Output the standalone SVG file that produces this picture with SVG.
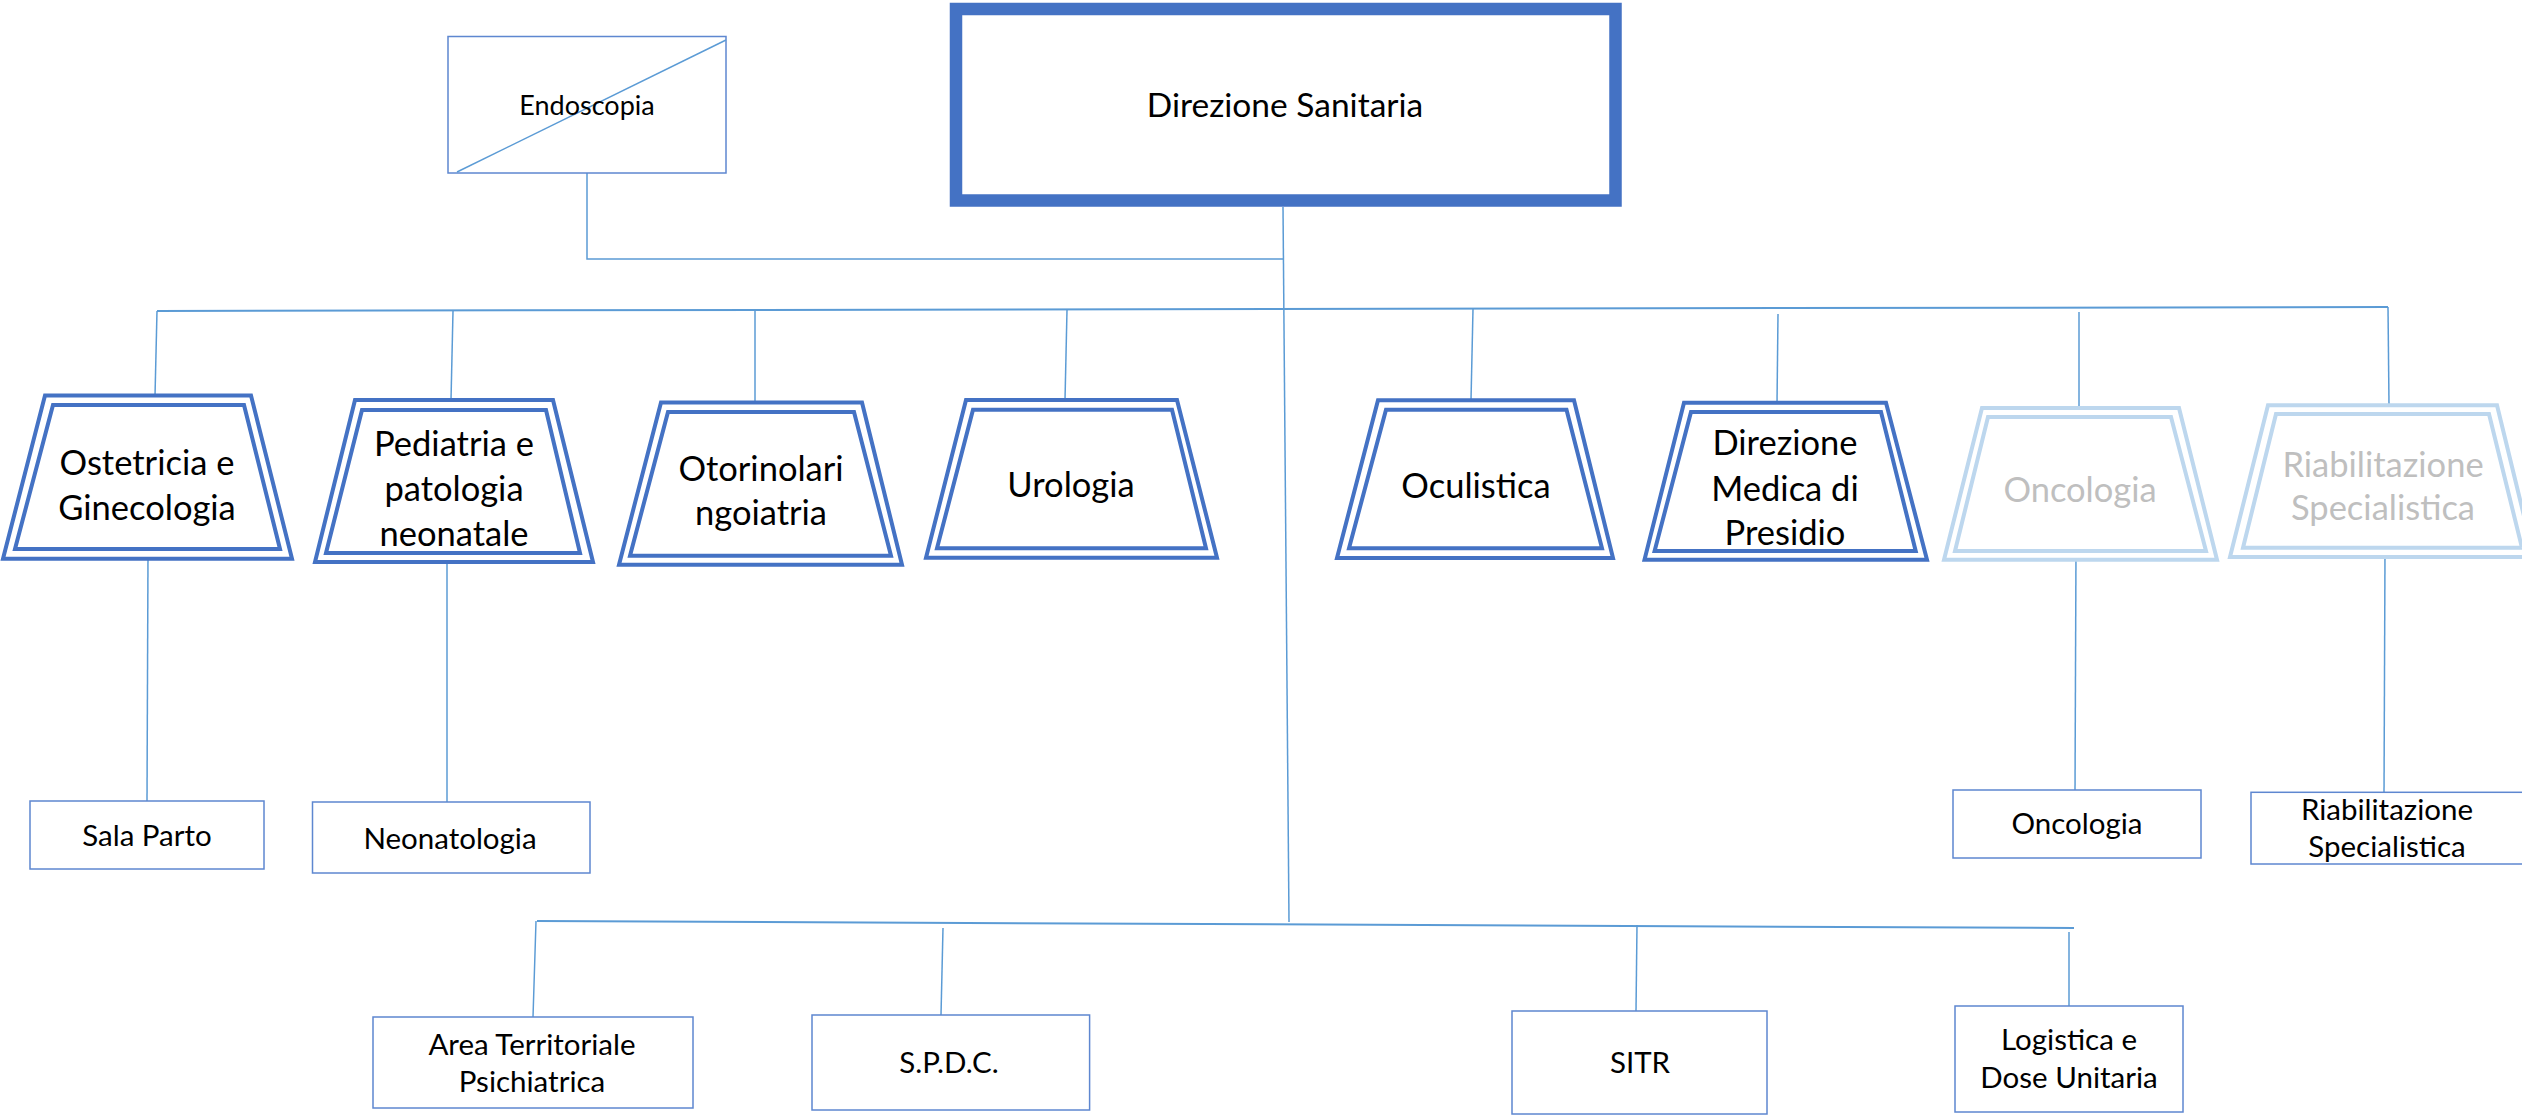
<svg xmlns="http://www.w3.org/2000/svg" width="2522" height="1117" viewBox="0 0 2522 1117">
<style>
text{font-family:Lato,"Liberation Sans",sans-serif;text-anchor:middle;fill:#000}
.t{font-size:34.5px}
.s{font-size:29.5px}
.lt{fill:#BFBFBF}
.dk{fill:#fff;stroke:#4472C4;stroke-width:4}
.lg{fill:#fff;stroke:#BDD7EE;stroke-width:4}
.box{fill:#fff;stroke:#5E87D0;stroke-width:1.5}
.con line,.con polyline{stroke:#5B9BD5;stroke-width:1.5;fill:none}
.con .bus{stroke-width:2}
</style>
<rect width="2522" height="1117" fill="#fff"/>
<g class="con">
<polyline points="587,173 587,259 1283,259"/>
<line x1="1283" y1="207" x2="1289" y2="922"/>
<line class="bus" x1="157" y1="311" x2="2388" y2="307"/>
<line x1="157" y1="311" x2="155" y2="396"/>
<line x1="453" y1="311" x2="451" y2="400"/>
<line x1="755" y1="310" x2="755" y2="403"/>
<line x1="1067" y1="310" x2="1065" y2="400"/>
<line x1="1473" y1="309" x2="1471" y2="400"/>
<line x1="1778" y1="314" x2="1777" y2="403"/>
<line x1="2079" y1="312" x2="2079" y2="408"/>
<line x1="2388" y1="307" x2="2389" y2="405"/>
<line x1="148" y1="555" x2="147" y2="801"/>
<line x1="447" y1="558" x2="447" y2="803"/>
<line x1="2076" y1="548" x2="2075" y2="793"/>
<line x1="2385" y1="552" x2="2384" y2="796"/>
<line class="bus" x1="537" y1="921" x2="2074" y2="928"/>
<line x1="536" y1="921" x2="533" y2="1017"/>
<line x1="943" y1="928" x2="941" y2="1015"/>
<line x1="1637" y1="925" x2="1636" y2="1011"/>
<line x1="2069" y1="932" x2="2069" y2="1006"/>
</g>
<g id="direzione-sanitaria">
<rect x="956" y="9" width="659.5" height="191.5" fill="#fff" stroke="#4472C4" stroke-width="12.5"/>
<text x="1285" y="117" style="font-size:33.5px">Direzione Sanitaria</text>
</g>
<g id="endoscopia">
<rect x="448" y="36.5" width="278" height="136.5" class="box" stroke="#7A9BD8"/>
<line x1="457" y1="172" x2="726" y2="40" stroke="#5B9BD5" stroke-width="1.5"/>
<text x="587" y="115" style="font-size:27px">Endoscopia</text>
</g>
<g id="ostetricia">
<polygon class="dk" points="45,395.5 251,395.5 292,558.7 3,558.7"/>
<polygon class="dk" points="53,405 244,405 280,549 15,549"/>
<text class="t" x="147" y="475">Ostetricia e</text>
<text class="t" x="147" y="520">Ginecologia</text>
</g>
<g id="pediatria">
<polygon class="dk" points="355,400 553,400 593,562 315,562"/>
<polygon class="dk" points="362,410 546,410 580,553 326,553"/>
<text class="t" x="454" y="456">Pediatria e</text>
<text class="t" x="454" y="501">patologia</text>
<text class="t" x="454" y="546">neonatale</text>
</g>
<g id="otorinolaringoiatria">
<polygon class="dk" points="661,402.5 862,402.5 902,564.7 619,564.7"/>
<polygon class="dk" points="668,412 854,412 891,555.7 630,555.7"/>
<text class="t" x="761" y="481">Otorinolari</text>
<text class="t" x="761" y="525">ngoiatria</text>
</g>
<g id="urologia">
<polygon class="dk" points="966,400 1177,400 1217,557.7 926,557.7"/>
<polygon class="dk" points="973,409.7 1172,409.7 1206,548.3 937,548.3"/>
<text class="t" x="1071" y="497">Urologia</text>
</g>
<g id="oculistica">
<polygon class="dk" points="1378,400.3 1574,400.3 1613,558 1337,558"/>
<polygon class="dk" points="1386,409.7 1566.5,409.7 1602,548.3 1349,548.3"/>
<text class="t" x="1476" y="498">Oculistica</text>
</g>
<g id="direzione-medica">
<polygon class="dk" points="1684,402.7 1886,402.7 1927,559.7 1644.5,559.7"/>
<polygon class="dk" points="1691,412 1881,412 1915.7,551 1654.6,551"/>
<text class="t" x="1785" y="455">Direzione</text>
<text class="t" x="1785" y="500.5">Medica di</text>
<text class="t" x="1785" y="545">Presidio</text>
</g>
<g id="oncologia-area">
<polygon class="lg" points="1982,408 2179,408 2217,559.7 1944,559.7"/>
<polygon class="lg" points="1988,417 2171,417 2206,551 1955,551"/>
<text class="t lt" x="2080" y="502">Oncologia</text>
</g>
<g id="riabilitazione-area">
<polygon class="lg" points="2268,405.3 2497,405.3 2534,557 2230,557"/>
<polygon class="lg" points="2276,414 2489,414 2522,547.8 2243,547.8"/>
<text class="t lt" x="2383" y="477">Riabilitazione</text>
<text class="t lt" x="2383" y="520">Specialistica</text>
</g>
<g id="sala-parto">
<rect class="box" x="30" y="801" width="234" height="68"/>
<text class="s" x="147" y="846">Sala Parto</text>
</g>
<g id="neonatologia">
<rect class="box" x="312.5" y="802" width="277.5" height="71"/>
<text class="s" x="450" y="849">Neonatologia</text>
</g>
<g id="oncologia">
<rect class="box" x="1953" y="790" width="248" height="68"/>
<text class="s" x="2077" y="834">Oncologia</text>
</g>
<g id="riabilitazione">
<rect class="box" x="2251" y="792.3" width="290" height="71.7"/>
<text class="s" x="2387" y="820">Riabilitazione</text>
<text class="s" x="2387" y="857">Specialistica</text>
</g>
<g id="area-territoriale">
<rect class="box" x="373" y="1017" width="320" height="91"/>
<text class="s" x="532" y="1055">Area Territoriale</text>
<text class="s" x="532" y="1092">Psichiatrica</text>
</g>
<g id="spdc">
<rect class="box" x="812" y="1015" width="277.6" height="95"/>
<text class="s" x="949" y="1073">S.P.D.C.</text>
</g>
<g id="sitr">
<rect class="box" x="1512" y="1011" width="255" height="103"/>
<text class="s" x="1640" y="1073">SITR</text>
</g>
<g id="logistica">
<rect class="box" x="1955" y="1006" width="228" height="106"/>
<text class="s" x="2069" y="1050">Logistica e</text>
<text class="s" x="2069" y="1088">Dose Unitaria</text>
</g>
</svg>
